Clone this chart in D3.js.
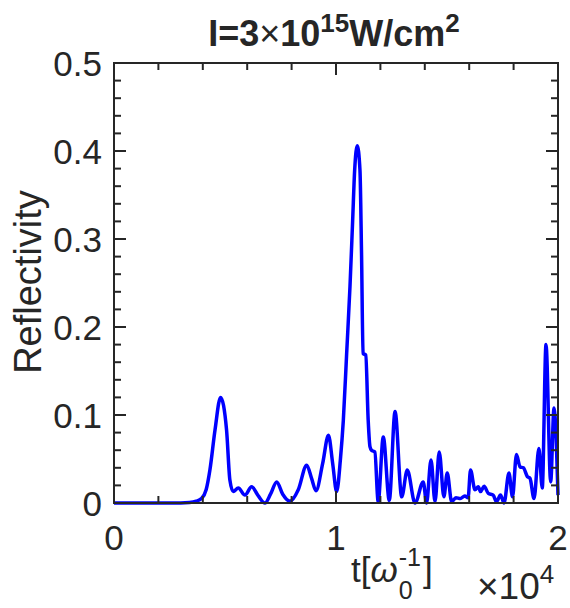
<!DOCTYPE html>
<html><head><meta charset="utf-8">
<script src="https://cdn.jsdelivr.net/npm/d3@7"></script>
<style>
html,body{margin:0;padding:0;background:#fff;}
text{font-family:"Liberation Sans",Arial,Helvetica,sans-serif;fill:#262626;}
</style></head>
<body>
<svg id="chart" width="570" height="608"></svg>
<script>
// ---- data (t in units of 1e4 / omega0) ----
const tValues = [0, 0.30, 0.34, 0.37, 0.394, 0.415, 0.432, 0.455, 0.48, 0.507, 0.522, 0.537, 0.56, 0.59, 0.62, 0.65, 0.68, 0.705, 0.733, 0.76, 0.793, 0.83, 0.868, 0.89, 0.91, 0.94, 0.966, 0.985, 1.003, 1.02, 1.033, 1.048, 1.063, 1.075, 1.084, 1.096, 1.108, 1.115, 1.122, 1.134, 1.145, 1.153, 1.16, 1.175, 1.19, 1.213, 1.24, 1.266, 1.296, 1.321, 1.356, 1.393, 1.408, 1.428, 1.446, 1.465, 1.486, 1.501, 1.521, 1.54, 1.56, 1.58, 1.595, 1.606, 1.626, 1.641, 1.651, 1.667, 1.686, 1.708, 1.723, 1.741, 1.757, 1.779, 1.795, 1.813, 1.829, 1.844, 1.862, 1.874, 1.892, 1.914, 1.929, 1.946, 1.967, 1.982, 2.0];
const reflectivity = [0, 0, 0.0005, 0.002, 0.005, 0.015, 0.0375, 0.083, 0.12, 0.083, 0.026, 0.013, 0.017, 0.009, 0.0185, 0.008, 0.0, 0.01, 0.024, 0.01, 0.002, 0.015, 0.043, 0.028, 0.014, 0.045, 0.077, 0.045, 0.013, 0.05, 0.094, 0.17, 0.246, 0.321, 0.378, 0.406, 0.378, 0.284, 0.17, 0.168, 0.094, 0.064, 0.06, 0.058, 0.0015, 0.075, 0.003, 0.104, 0.007, 0.0375, 0.0, 0.024, 0.0, 0.049, 0.0015, 0.058, 0.007, 0.034, 0.0015, 0.006, 0.005, 0.008, 0.006, 0.0375, 0.015, 0.0185, 0.013, 0.019, 0.011, 0.009, 0.0015, 0.009, 0.0, 0.034, 0.007, 0.055, 0.041, 0.040, 0.030, 0.028, 0.005, 0.062, 0.017, 0.18, 0.024, 0.108, 0.009];
const xTicks = [0, 1, 2];
const yTicks = [0, 0.1, 0.2, 0.3, 0.4, 0.5];
const yTickLabels = ["0", "0.1", "0.2", "0.3", "0.4", "0.5"];

const svg = d3.select("#chart");
const L = 114, R = 558, T = 63, B = 503;
const x = d3.scaleLinear().domain([0, 2]).range([L, R]);
const y = d3.scaleLinear().domain([0, 0.5]).range([B, T]);
const axisColor = "#262626";
const fs = 35;

// curve
const pts = tValues.map((t, i) => [t, reflectivity[i]]);
const line = d3.line().x(d => x(d[0])).y(d => y(d[1])).curve(d3.curveMonotoneX);
svg.append("path").datum(pts).attr("d", line)
  .attr("fill", "none").attr("stroke", "#0000ff").attr("stroke-width", 3.5)
  .attr("stroke-linejoin", "round");

// box + ticks
const g = svg.append("g");
const xMinor = d3.range(0, 2.0001, 0.2).map(v => +v.toFixed(3));
const yMinor = d3.range(0, 0.5001, 0.02).map(v => +v.toFixed(3));
const isMajX = v => xTicks.some(t => Math.abs(t - v) < 1e-6);
const isMajY = v => yTicks.some(t => Math.abs(t - v) < 1e-6);
xMinor.forEach(v => {
  const len = isMajX(v) ? 12 : 7;
  g.append("line").attr("x1", x(v)).attr("x2", x(v)).attr("y1", B).attr("y2", B - len);
  g.append("line").attr("x1", x(v)).attr("x2", x(v)).attr("y1", T).attr("y2", T + len);
});
yMinor.forEach(v => {
  const len = isMajY(v) ? 12 : 7;
  g.append("line").attr("y1", y(v)).attr("y2", y(v)).attr("x1", L).attr("x2", L + len);
  g.append("line").attr("y1", y(v)).attr("y2", y(v)).attr("x1", R).attr("x2", R - len);
});
g.selectAll("line").attr("stroke", axisColor).attr("stroke-width", 2);
g.append("rect").attr("x", L).attr("y", T).attr("width", R - L).attr("height", B - T)
  .attr("fill", "none").attr("stroke", axisColor).attr("stroke-width", 2);

// tick labels
svg.selectAll(".xt").data(xTicks).enter().append("text")
  .attr("x", d => x(d)).attr("y", 550).attr("text-anchor", "middle")
  .attr("font-size", fs).text(d => d);
svg.selectAll(".yt").data(yTicks).enter().append("text")
  .attr("x", 102).attr("y", d => y(d) + 13).attr("text-anchor", "end")
  .attr("font-size", fs).text((d, i) => yTickLabels[i]);

// y label
svg.append("text").attr("transform", "translate(41,282) rotate(-90)")
  .attr("text-anchor", "middle").attr("font-size", 38).text("Reflectivity");

// title
const title = svg.append("text").attr("x", 334).attr("y", 46).attr("text-anchor", "middle")
  .attr("font-size", 36).attr("font-weight", "bold");
title.append("tspan").text("I=3");
title.append("tspan").attr("font-weight", "normal").text("\u00d7");
title.append("tspan").text("10");
title.append("tspan").attr("font-size", 26).attr("dy", -14).text("15");
title.append("tspan").attr("dy", 14).text("W/cm");
title.append("tspan").attr("font-size", 26).attr("dy", -14).text("2");

// x label t[ω_0^-1]
const xl = svg.append("g");
const t1 = xl.append("text").attr("x", 351).attr("y", 582).attr("font-size", fs).text("t[");
let cx = 351 + t1.node().getComputedTextLength();
const om = xl.append("text").attr("x", cx).attr("y", 582).attr("font-size", fs)
  .attr("font-style", "italic").attr("font-family", "'DejaVu Serif',serif").text("\u03c9");
cx += om.node().getComputedTextLength() + 1;
const sup = xl.append("text").attr("x", cx).attr("y", 566).attr("font-size", 25).text("-1");
const sub = xl.append("text").attr("x", cx).attr("y", 599).attr("font-size", 25).text("0");
cx += Math.max(sup.node().getComputedTextLength(), sub.node().getComputedTextLength()) + 2;
xl.append("text").attr("x", cx).attr("y", 582).attr("font-size", fs).text("]");

// exponent ×10^4
const ex = svg.append("text").attr("x", 477).attr("y", 599).attr("font-size", 37);
ex.append("tspan").text("\u00d710");
ex.append("tspan").attr("font-size", 26).attr("dy", -16).text("4");
</script>
</body></html>
